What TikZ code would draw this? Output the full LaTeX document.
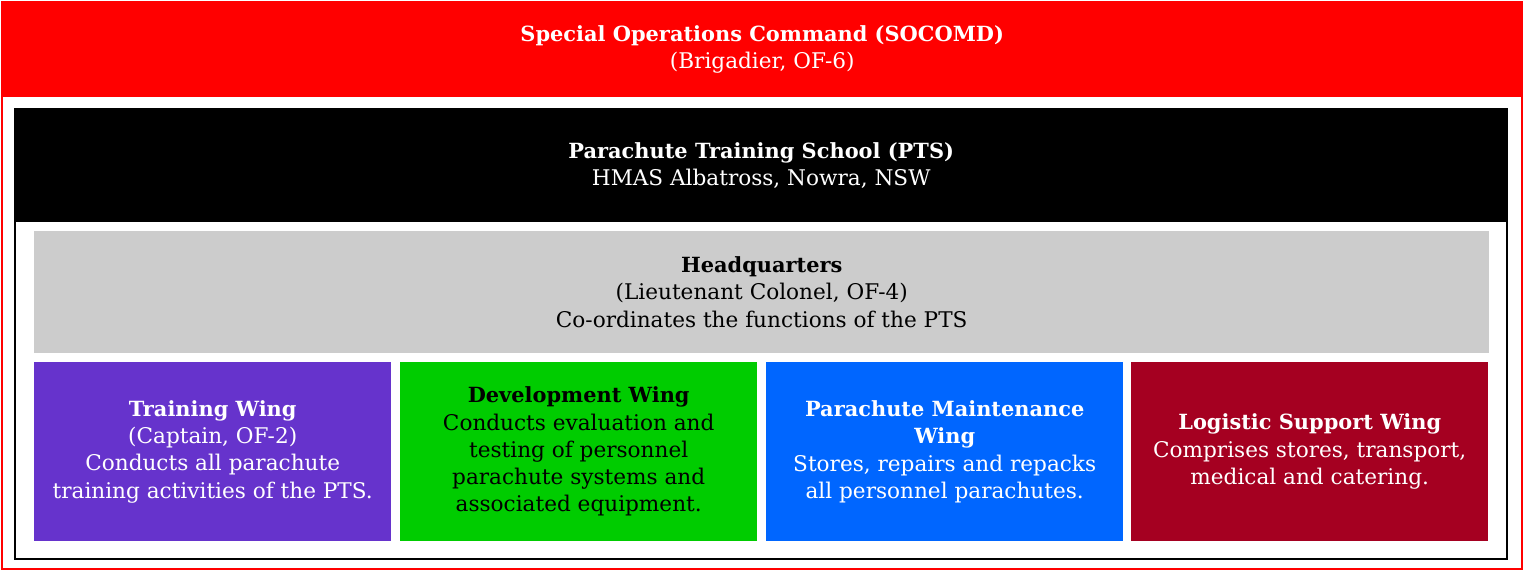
\documentclass[tikz,border=0pt]{standalone}
\usepackage{fontspec}
\setmainfont{DejaVu Serif}
\definecolor{socred}{HTML}{FF0000}
\definecolor{hqgrey}{HTML}{CCCCCC}
\definecolor{trpurple}{HTML}{6633CC}
\definecolor{devgreen}{HTML}{00CC00}
\definecolor{pmblue}{HTML}{0066FF}
\definecolor{lsmaroon}{HTML}{A50021}
\newcommand{\unithead}[1]{{\fontsize{20.9}{27.3}\selectfont\bfseries #1}}
\begin{document}
\begin{tikzpicture}[x=1pt,y=-1pt]
	
		\tikzset{
		  unit/.style={
			anchor=north west,
			inner sep=0pt,
			align=center,
			font=\fontsize{21.6}{27.3}\selectfont,
		  },
		  wing/.style={
			unit,
			minimum width=357pt,
			minimum height=179pt,
			text=white,
		  },
		}
		\useasboundingbox (0,0) rectangle (1525,572);
		% outer frames
		\draw[color={socred},line width = 1.3] (2,2) rectangle (1522,569);
		\draw[color={black},line width = 1.3] (15,109) rectangle (1507,559);
		\node[unit,fill={socred},text=white,minimum width=1520pt,minimum height=95pt] (socomd) at (2,2)
			{\unithead{Special Operations Command (SOCOMD)}\\(Brigadier, OF-6)};
		\node[unit,fill={black},text=white,minimum width=1492pt,minimum height=113pt] (pts) at (15,109)
			{\unithead{Parachute Training School (PTS)}\\HMAS Albatross, Nowra, NSW};
		\node[unit,fill={hqgrey},text=black,minimum width=1455pt,minimum height=122pt] (hq) at (34,231)
			{\unithead{Headquarters}\\(Lieutenant Colonel, OF-4)\\Co-ordinates the functions of the PTS};
		% wings
		\node[wing,fill={trpurple}] (training) at (34,362)
			{\unithead{Training Wing}\\(Captain, OF-2)\\Conducts all parachute\\training activities of the PTS.};
		\node[wing,fill={devgreen},text=black] (development) at (400,362)
			{\unithead{Development Wing}\\Conducts evaluation and\\testing of personnel\\parachute systems and\\associated equipment.};
		\node[wing,fill={pmblue}] (maintenance) at (766,362)
			{\unithead{Parachute Maintenance}\\\unithead{Wing}\\Stores, repairs and repacks\\all personnel parachutes.};
		\node[wing,fill={lsmaroon}] (logistic) at (1131,362)
			{\unithead{Logistic Support Wing}\\Comprises stores, transport,\\medical and catering.};
	
	\end{tikzpicture}
\end{document}
